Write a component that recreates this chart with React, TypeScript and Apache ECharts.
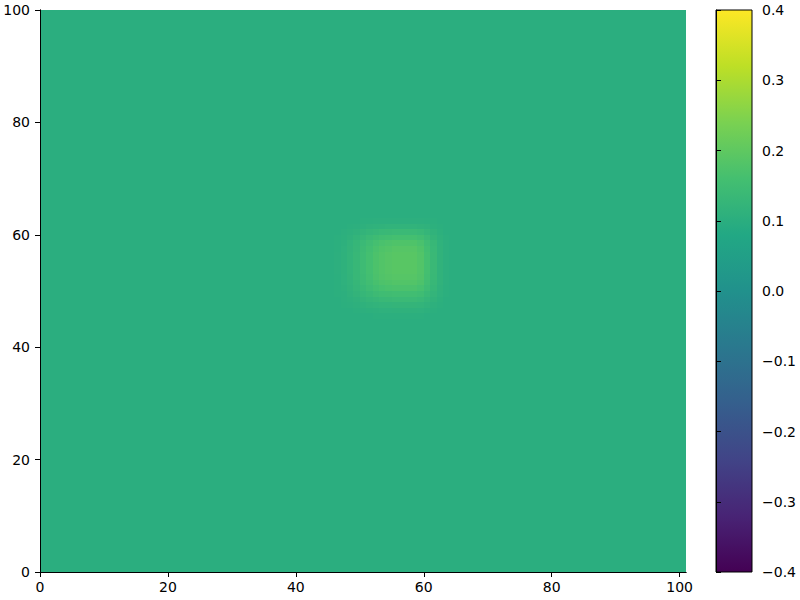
import React, { useEffect, useRef } from "react";
import * as echarts from "echarts";

// ---- data ----
const xCellCount = 101; // columns 0..100
const yCellCount = 100; // rows 0..99
const baseValue = 0.1;
// blob patch columns x = 46..63, rows y = 45..62 ; deltas in thousandths
const patchX0 = 46;
const patchY0 = 45;
const blobDeltaMilli: number[][] = [
  [0, 0, 1, 1, 2, 2, 3, 3, 3, 4, 4, 4, 4, 3, 2, 1, 1, 0],
  [1, 1, 2, 4, 5, 7, 9, 10, 10, 11, 11, 11, 11, 10, 7, 4, 2, 1],
  [1, 3, 5, 8, 11, 15, 18, 20, 21, 23, 23, 23, 23, 20, 15, 9, 4, 1],
  [2, 5, 8, 13, 19, 25, 30, 34, 36, 38, 38, 38, 38, 34, 25, 15, 7, 2],
  [3, 6, 12, 19, 27, 35, 43, 49, 51, 54, 54, 54, 54, 49, 35, 22, 10, 3],
  [4, 8, 15, 25, 35, 46, 56, 63, 67, 70, 70, 70, 70, 63, 46, 28, 13, 4],
  [4, 10, 18, 28, 41, 53, 65, 73, 77, 81, 81, 81, 81, 73, 53, 32, 15, 5],
  [4, 10, 19, 31, 44, 57, 70, 79, 83, 87, 87, 87, 87, 79, 57, 35, 16, 5],
  [5, 11, 20, 32, 45, 59, 72, 81, 86, 90, 90, 90, 90, 81, 59, 36, 16, 5],
  [5, 11, 20, 32, 45, 59, 72, 81, 86, 90, 90, 90, 90, 81, 59, 36, 16, 5],
  [5, 11, 20, 32, 45, 59, 72, 81, 86, 90, 90, 90, 90, 81, 59, 36, 16, 5],
  [5, 11, 20, 32, 45, 59, 72, 81, 86, 90, 90, 90, 90, 81, 59, 36, 16, 5],
  [4, 10, 19, 30, 43, 56, 68, 77, 81, 86, 86, 86, 86, 77, 56, 34, 15, 5],
  [4, 9, 17, 27, 38, 50, 61, 69, 73, 77, 77, 77, 77, 69, 50, 31, 14, 5],
  [3, 7, 13, 20, 29, 38, 47, 53, 56, 59, 59, 59, 59, 53, 38, 23, 11, 4],
  [2, 5, 8, 13, 19, 25, 30, 34, 36, 38, 38, 38, 38, 34, 25, 15, 7, 2],
  [1, 2, 4, 6, 9, 12, 14, 16, 17, 18, 18, 18, 18, 16, 12, 7, 3, 1],
  [0, 1, 1, 2, 3, 4, 5, 6, 6, 6, 6, 6, 6, 6, 4, 3, 1, 0],
];
const xTicks = [0, 20, 40, 60, 80, 100];
const yTicks = [0, 20, 40, 60, 80, 100];
const cbMin = -0.4;
const cbMax = 0.4;
const cbInterval = 0.1;
const viridis = [
  "#440154", "#482475", "#414487", "#355f8d", "#2a788e", "#21918c",
  "#22a884", "#44bf70", "#7ad151", "#bddf26", "#fde725",
];

const FONT = "DejaVu Sans";

function buildCells(): number[][] {
  const cells: number[][] = [];
  for (let y = 0; y < yCellCount; y++) {
    for (let x = 0; x < xCellCount; x++) {
      let v = baseValue;
      const r = y - patchY0;
      const c = x - patchX0;
      if (r >= 0 && r < blobDeltaMilli.length && c >= 0 && c < blobDeltaMilli[r].length) {
        v += blobDeltaMilli[r][c] / 1000;
      }
      cells.push([x, y, v]);
    }
  }
  return cells;
}

export default function App() {
  const ref = useRef<HTMLDivElement>(null);
  useEffect(() => {
    if (!ref.current) return;
    const chart = echarts.init(ref.current, undefined, { renderer: "svg" });
    const axisText = { color: "#000", fontFamily: FONT, fontSize: 14 };
    const line = { show: true, lineStyle: { color: "#000", width: 1 } };
    const L = 40, T = 10, W = 646, H = 562;
    const CBL = 716, CBW = 36;
    const fmt = (v: number) => {
      const s = Math.abs(v).toFixed(1);
      return v < -1e-9 ? "\u2212" + s : s;
    };
    const stops = viridis
      .map((c, i) => ({ offset: 1 - i / (viridis.length - 1), color: c }))
      .reverse();
    chart.setOption({
      animation: false,
      backgroundColor: "#fff",
      grid: [
        { left: L, top: T, width: W, height: H },
        { left: CBL, top: T, width: CBW, height: H },
      ],
      visualMap: {
        show: false,
        type: "continuous",
        min: cbMin,
        max: cbMax,
        dimension: 2,
        seriesIndex: 0,
        inRange: { color: viridis },
      },
      xAxis: [
        {
          type: "value", gridIndex: 0, min: 0, max: xCellCount, position: "bottom", z: 10,
          splitLine: { show: false },
          axisLine: line,
          axisTick: { show: true, length: 5, lineStyle: { color: "#000" }, customValues: xTicks },
          axisLabel: { ...axisText, margin: 8, customValues: xTicks },
        },
        {
          type: "value", gridIndex: 0, min: 0, max: xCellCount, position: "top", z: 10,
          splitLine: { show: false }, axisLine: line, axisTick: { show: false }, axisLabel: { show: false },
        },
        { type: "value", gridIndex: 1, min: 0, max: 1, show: false },
      ],
      yAxis: [
        {
          type: "value", gridIndex: 0, min: 0, max: yCellCount, position: "left", z: 10,
          splitLine: { show: false },
          axisLine: line,
          axisTick: { show: true, length: 5, lineStyle: { color: "#000" }, customValues: yTicks },
          axisLabel: { ...axisText, margin: 10, customValues: yTicks },
        },
        {
          type: "value", gridIndex: 0, min: 0, max: yCellCount, position: "right", z: 10,
          splitLine: { show: false }, axisLine: line, axisTick: { show: false }, axisLabel: { show: false },
        },
        {
          type: "value", gridIndex: 1, min: cbMin, max: cbMax, interval: cbInterval, position: "right", z: 10,
          splitLine: { show: false },
          axisLine: line,
          axisTick: { show: true, length: 5, lineStyle: { color: "#000" } },
          axisLabel: { ...axisText, margin: 10, formatter: fmt },
        },
      ],
      graphic: [
        {
          type: "rect",
          z: 1,
          shape: { x: CBL, y: T, width: CBW, height: H },
          style: {
            fill: new echarts.graphic.LinearGradient(0, 0, 0, 1, stops),
            stroke: "#000",
            lineWidth: 1,
          },
        },
      ],
      series: [
        {
          type: "custom",
          xAxisIndex: 0,
          yAxisIndex: 0,
          z: 1,
          encode: { x: 0, y: 1 },
          data: buildCells(),
          renderItem: (params: any, api: any) => {
            const x = api.value(0);
            const y = api.value(1);
            const p0 = api.coord([x, y + 1]);
            const p1 = api.coord([x + 1, y]);
            const x0 = Math.round(p0[0]);
            const y0 = Math.round(p0[1]);
            const x1 = Math.round(p1[0]);
            const y1 = Math.round(p1[1]);
            const color = api.visual("color");
            return {
              type: "rect",
              shape: { x: x0, y: y0, width: x1 - x0, height: y1 - y0 },
              style: { fill: color },
            };
          },
        },
      ],
    });
    return () => chart.dispose();
  }, []);
  return (
    <div
      ref={ref}
      style={{ position: "fixed", left: 0, top: 0, width: 800, height: 600 }}
    />
  );
}
